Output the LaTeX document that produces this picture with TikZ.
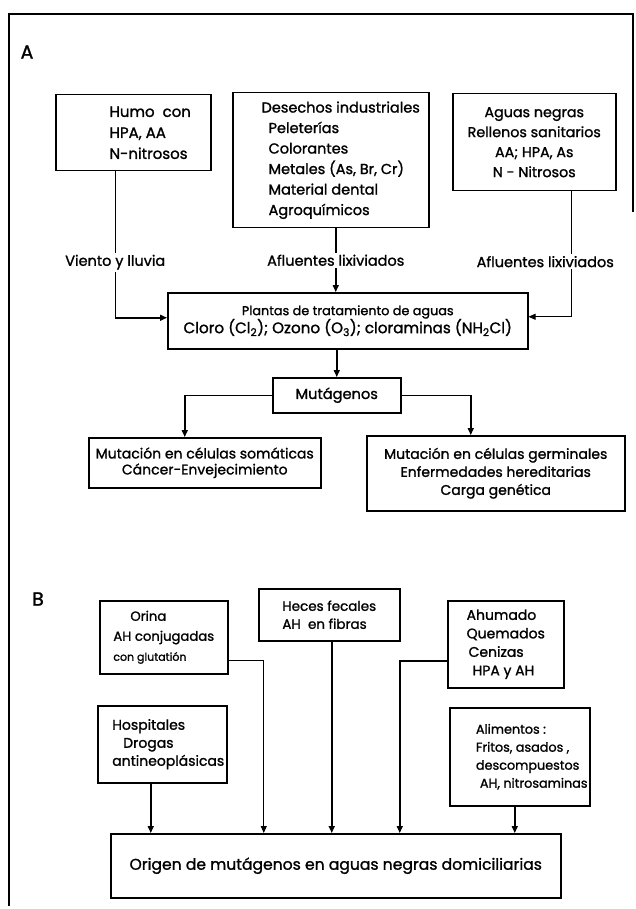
\documentclass[tikz,border=0pt]{standalone}
\usepackage{fontspec}
\setmainfont{Poppins}[FakeBold=1.3]
\usetikzlibrary{arrows.meta}
\newcommand{\fsz}[2]{\fontsize{#1}{#2}\selectfont}

\begin{document}
\begin{tikzpicture}[
  x=1pt, y=-1pt, >={Triangle[length=7pt,width=6pt]},
  box/.style={draw, line width=1.5pt, inner sep=0pt, anchor=north west,
              align=center, font=\fsz{14}{20}},
  flow/.style={->, line width=1.5pt},
  lbl/.style={fill=white, inner sep=2pt, font=\fsz{14.5}{16}},
  tag/.style={font=\fsz{19}{20}}
]
\useasboundingbox (0,0) rectangle (635,909);
% frame of the plate
\draw[line width=1.6pt] (633,212) -- (633,14) -- (9,14) -- (9,906);

% ---- A ----
\node[tag] (tagA) at (27,52) {A};
\node[box, align=left, minimum width=155pt, minimum height=76pt, font=\fsz{15}{21}] (humo) at (55,94)
  {\hspace*{34pt}Humo\ \ con\\\hspace*{34pt}HPA, AA\\\hspace*{34pt}N-nitrosos};
\node[box, align=left, minimum width=196pt, minimum height=135pt, font=\fsz{14.5}{20.5}] (desechos) at (232,92)
  {\hspace*{20pt}Desechos industriales\\\hspace*{27pt}Peleterías\\\hspace*{27pt}Colorantes\\\hspace*{27pt}Metales (As, Br, Cr)\\\hspace*{27pt}Material dental\\\hspace*{27pt}Agroquímicos};
\node[box, minimum width=163pt, minimum height=97pt, font=\fsz{14.3}{20}] (aguas) at (452,93)
  {Aguas negras\\Rellenos sanitarios\\AA; HPA, As\\N - Nitrosos};
\node[box, minimum width=360pt, minimum height=56pt, font=\fsz{12.8}{18}] (plantas) at (167,292)
  {Plantas de tratamiento de aguas\\\fsz{15.2}{18}Cloro (Cl\textsubscript{2}); Ozono (O\textsubscript{3}); cloraminas (NH\textsubscript{2}Cl)};
\node[box, minimum width=128pt, minimum height=35pt, font=\fsz{14.6}{18}] (mut) at (272,377) {Mutágenos};
\node[box, minimum width=232pt, minimum height=50pt, font=\fsz{14}{16}] (soma) at (88,437)
  {Mutación en células somáticas\\Cáncer-Envejecimiento};
\node[box, minimum width=258pt, minimum height=75pt, font=\fsz{14}{18}] (germ) at (366,435)
  {Mutación en células germinales\\Enfermedades hereditarias\\Carga genética};

\draw[flow] ([xshift=-18pt]humo.south) |- node[lbl, pos=0.31] {Viento y lluvia} ([yshift=3pt]plantas.west);
\draw[flow] ([xshift=5pt]desechos.south) -- ([xshift=5pt]desechos.south |- plantas.north)
  node[lbl, midway] {Afluentes lixiviados};
\draw[flow, line width=0.8pt] ([xshift=37pt]aguas.south) |- node[lbl, pos=0.28, xshift=-26pt] {Afluentes lixiviados} ([yshift=4pt]plantas.east);
\draw[flow] (plantas.south -| mut.north) -- (mut.north);
\draw[flow] (mut.west) -| ([xshift=-20pt]soma.north);
\draw[flow] (mut.east) -| ([xshift=-25pt]germ.north);

% ---- B ----
\node[tag] (tagB) at (38,599) {B};
\node[box, align=left, minimum width=128pt, minimum height=73pt, font=\fsz{13.2}{20}] (orina) at (99,600)
  {\hspace*{17pt}Orina\\AH conjugadas\\\fsz{11}{14}con glutatión};
\node[box, align=left, minimum width=141pt, minimum height=52pt, font=\fsz{13.5}{18}] (heces) at (258,588)
  {Heces fecales\\AH\ \ en fibras};
\node[box, align=left, minimum width=116pt, minimum height=87pt, font=\fsz{14}{18.5}] (ahum) at (447,600)
  {Ahumado\\Quemados\\\hspace*{2pt}Cenizas\\\hspace*{6pt}HPA y AH};
\node[box, align=left, minimum width=129pt, minimum height=77pt, font=\fsz{14}{18}] (hosp) at (97,705)
  {\hspace*{12pt}Hospitales\\\hspace*{23pt}Drogas\\\hspace*{12pt}antineoplásicas};
\node[box, align=left, minimum width=140pt, minimum height=98pt, font=\fsz{12.8}{18}] (alim) at (449,707)
  {\hspace*{24pt}Alimentos :\\\hspace*{24pt}Fritos, asados ,\\\hspace*{24pt}descompuestos\\\hspace*{28pt}AH, nitrosaminas};
\node[box, minimum width=450pt, minimum height=64pt, font=\fsz{15.6}{20}] (origen) at (110,833)
  {Origen de mutágenos en aguas negras domiciliarias};

\draw[flow] ([xshift=-11.5pt]hosp.south) -- ([xshift=-11.5pt]hosp.south |- origen.north);
\draw[flow, line width=0.8pt] ([yshift=-23.5pt]orina.east) -| ([xshift=-72pt]origen.north);
\draw[flow, line width=2pt] ([xshift=2.5pt]heces.south) -- ([xshift=2.5pt]heces.south |- origen.north);
\draw[flow] ([yshift=-16.5pt]ahum.west) -| ([xshift=64pt]origen.north);
\draw[flow] ([xshift=-5pt]alim.south) -- ([xshift=-5pt]alim.south |- origen.north);
\end{tikzpicture}
\end{document}
